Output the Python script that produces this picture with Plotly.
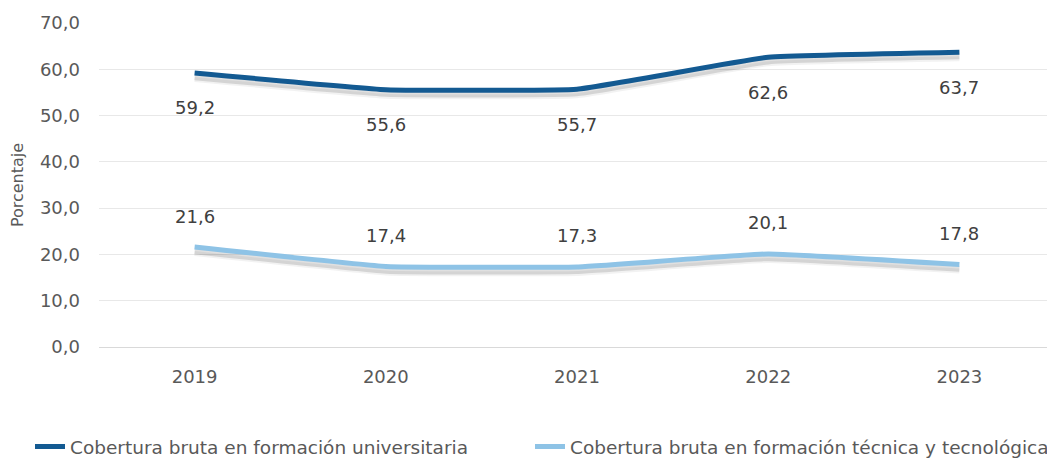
import plotly.graph_objects as go

years = ["2019", "2020", "2021", "2022", "2023"]
universitaria = [59.2, 55.6, 55.7, 62.6, 63.7]
tecnica = [21.6, 17.4, 17.3, 20.1, 17.8]
name_u = "Cobertura bruta en formación universitaria"
name_t = "Cobertura bruta en formación técnica y tecnológica"

dark = "#135a92"
light = "#8ec3e6"
font_fam = "DejaVu Sans"

W, H = 1047, 453  # page body has an 8px margin in the browser

fig = go.Figure()
for vals, col in [(universitaria, dark), (tecnica, light)]:
    fig.add_trace(go.Scatter(
        x=years, y=[v - 0.9 for v in vals], mode="lines", showlegend=False,
        line=dict(color="rgba(0,0,0,0.12)", width=6, shape="spline", smoothing=0.3),
        hoverinfo="skip"))
    fig.add_trace(go.Scatter(
        x=years, y=[v - 1.4 for v in vals], mode="lines", showlegend=False,
        line=dict(color="rgba(0,0,0,0.05)", width=5, shape="spline", smoothing=0.3),
        hoverinfo="skip"))
fig.add_trace(go.Scatter(
    x=years, y=universitaria, mode="lines", name=name_u, legend="legend",
    line=dict(color=dark, width=5, shape="spline", smoothing=0.3)))
fig.add_trace(go.Scatter(
    x=years, y=tecnica, mode="lines", name=name_t, legend="legend2",
    line=dict(color=light, width=5, shape="spline", smoothing=0.3)))

def fmt(v):
    return f"{v:.1f}".replace(".", ",")

# category axis: annotations use the category index
for i, v in enumerate(universitaria):
    fig.add_annotation(x=i, y=v, text=fmt(v), showarrow=False, yshift=-35,
                       font=dict(family=font_fam, size=18, color="#404040"))
for i, v in enumerate(tecnica):
    fig.add_annotation(x=i, y=v, text=fmt(v), showarrow=False, yshift=31,
                       font=dict(family=font_fam, size=18, color="#404040"))

leg_common = dict(orientation="h", xref="container", yref="container",
                  xanchor="left", yanchor="middle", y=14 / H,
                  font=dict(family=font_fam, size=18.5, color="#595959"),
                  bgcolor="rgba(0,0,0,0)")

fig.update_layout(
    width=W, height=H,
    margin=dict(l=91, r=0, t=15, b=114, autoexpand=False),
    paper_bgcolor="white", plot_bgcolor="white",
    separators=",.",
    font=dict(family=font_fam, color="#595959", size=17),
    legend=dict(x=22 / W, **leg_common),
    legend2=dict(x=522 / W, **leg_common),
    xaxis=dict(type="category", range=[-0.5, len(years) - 0.5], showgrid=False,
               showline=False, ticks="", ticklabelstandoff=17,
               tickfont=dict(size=18, color="#595959")),
    yaxis=dict(range=[0, 70], dtick=10, tickformat=".1f", showgrid=True,
               gridcolor="#e8e8e8", gridwidth=1, zeroline=True, zerolinecolor="#d9d9d9",
               zerolinewidth=1, showline=False, ticks="", ticklabelstandoff=18,
               tickfont=dict(size=18, color="#595959"),
               title=dict(text="Porcentaje", font=dict(size=16, color="#595959"), standoff=12)),
)

fig.write_html("out.html")
